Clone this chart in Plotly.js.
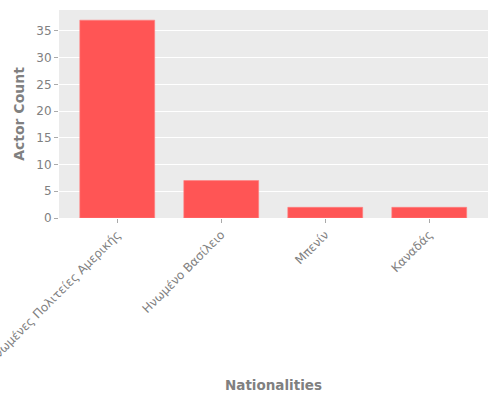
<!DOCTYPE html>
<html>
<head>
<meta charset="utf-8">
<script src="https://cdn.plot.ly/plotly-3.0.1.min.js"></script>
<style>
  html, body { margin: 0; padding: 0; background: #fff; }
  #chart { width: 500px; height: 400px; }
</style>
</head>
<body>
<div id="chart"></div>
<script>
    // Chart data
    const nationalities = ['Ηνωμένες Πολιτείες Αμερικής', 'Ηνωμένο Βασίλειο', 'Μπενίν', 'Καναδάς'];
    const actorCounts = [37, 7, 2, 2];
    const yTicks = [0, 5, 10, 15, 20, 25, 30, 35];

    const gray = '#808080';

    const data = [{
        x: nationalities,
        y: actorCounts,
        type: 'bar',
        width: 0.72,
        marker: {
            color: '#ff5555',
            line: { color: '#ff8080', width: 0.6 }
        },
        hoverinfo: 'x+y'
    }];

    const layout = {
        width: 500,
        height: 400,
        margin: { l: 59, r: 12, t: 10, b: 182 },
        paper_bgcolor: '#ffffff',
        plot_bgcolor: '#ebebeb',
        font: { family: 'DejaVu Sans, sans-serif', color: gray, size: 12 },
        showlegend: false,
        xaxis: {
            type: 'category',
            range: [-0.56, 3.565],
            tickangle: -45,
            showgrid: false,
            zeroline: false,
            showline: false,
            ticks: 'outside',
            ticklen: 4,
            tickcolor: '#aaaaaa',
            tickfont: { size: 12, color: gray },
            title: {
                text: 'Nationalities',
                font: { size: 13.5, color: gray, family: 'DejaVu Sans, sans-serif', weight: 'bold' },
                standoff: 14
            },
            automargin: false
        },
        yaxis: {
            range: [0, 38.9],
            tickvals: yTicks,
            showgrid: true,
            gridcolor: '#ffffff',
            gridwidth: 1,
            zeroline: false,
            showline: false,
            ticks: 'outside',
            ticklen: 4,
            tickcolor: '#aaaaaa',
            tickfont: { size: 12, color: gray },
            title: {
                text: 'Actor Count',
                font: { size: 14, color: gray, family: 'DejaVu Sans, sans-serif', weight: 'bold' },
                standoff: 8
            },
            automargin: false
        },
        bargap: 0.28
    };

    Plotly.newPlot('chart', data, layout, { displayModeBar: false, staticPlot: true });
</script>
</body>
</html>
